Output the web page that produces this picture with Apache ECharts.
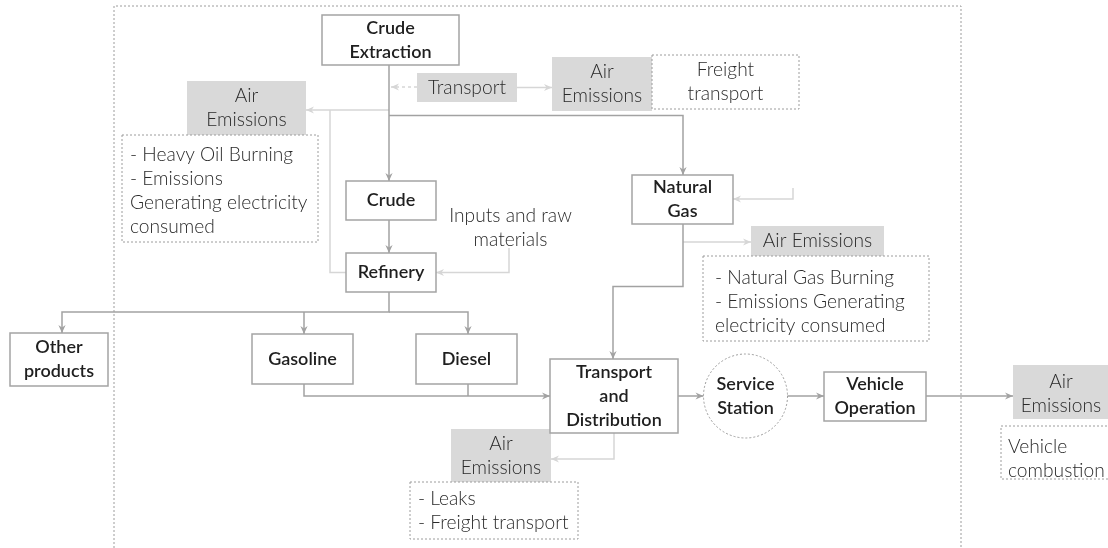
<!DOCTYPE html>
<html><head><meta charset="utf-8">
<script src="https://cdn.jsdelivr.net/npm/echarts@6/dist/echarts.min.js"></script>
<style>html,body{margin:0;padding:0;background:#fff}#c{width:1108px;height:548px}</style>
</head><body><div id="c"></div>
<script>
// ---- content ----
const processLabels = ['Crude\nExtraction','Crude','Refinery','Natural\nGas','Other\nproducts','Gasoline','Diesel','Transport\nand\nDistribution','Vehicle\nOperation'];
const stationLabels = ['Service\nStation'];
const emissionLabels = ['Transport','Air\nEmissions','Air\nEmissions','Air Emissions','Air\nEmissions','Air\nEmissions'];
const noteLabels = ['Freight\ntransport','- Heavy Oil Burning\n- Emissions\nGenerating electricity\nconsumed','- Natural Gas Burning\n- Emissions Generating\nelectricity consumed','- Leaks\n- Freight transport','Vehicle\ncombustion'];
const freeLabels = ['Inputs and raw\nmaterials'];

// ---- layout (diagram units = pixels of the reference) ----
const processBoxes = [[322,15,459,65],[346,181,436,220],[346,253,436,292],[632,175,733,224],[10,333,108,386],[252,334,353,384],[416,334,517,384],[550,359,678,433],[824,372,926,421]];
const stationCircles = [[745.5,396,42]];
const emissionBoxes = [[417,73,517,102],[552,57,652,111],[187,81,306,135],[751,226,884,256],[451,429,551,482],[1013,365,1130,419]];
const emissionAnchors = [[467,87.5],[602,84],[246.5,108],[817.5,241],[501,455.5],[1061,394]];
const noteBoxes = [[652,55,799,109],[122,135,318,242],[703,256,929,341],[410,482,578,539],[1001,426,1130,479]];
const noteAnchors = [[725.5,82,'center'],[130,191,'left'],[715,302,'left'],[418,510.5,'left'],[1008,458.5,'left']];
const freeAnchors = [[510.5,227.5]];
const framePath = [[114,600],[114,6],[961,6],[961,600]];
// main flows: [points, hasArrow]
const mainFlows = [
  [[[389,65],[389,181]],1],
  [[[389,115.5],[683,115.5],[683,175]],1],
  [[[389,220],[389,253]],1],
  [[[389,292],[389,312],[62,312],[62,333]],1],
  [[[304,312],[304,334]],1],
  [[[389,312],[468,312],[468,334]],1],
  [[[304,384],[304,396],[550,396]],1],
  [[[468,384],[468,396]],0],
  [[[683,224],[683,286.5],[613,286.5],[613,359]],1],
  [[[678,396],[703.5,396]],1],
  [[[787,396],[824,396]],1],
  [[[926,396],[1013,396]],1]
];
// aux flows: [points, hasArrow, dashed]
const auxFlows = [
  [[[417,87],[391,87]],1,1],
  [[[517,87.5],[552,87.5]],1,0],
  [[[389,110],[306,110]],1,0],
  [[[346,272.5],[330,272.5],[330,110]],0,0],
  [[[509,248],[509,272.5],[436,272.5]],1,0],
  [[[793,188],[793,199],[733,199]],1,0],
  [[[683,242],[751,242]],1,0],
  [[[614,433],[614,459],[551,459]],1,0]
];

const FONT = 'Lato, "Open Sans", sans-serif';
const MAIN = '#a2a2a2', LIGHT = '#d6d6d6', BORDER = '#a4a4a4', DASH = '#9c9c9c', FILL = '#d9d9d9';
const DARK = '#1f1f1f', SOFT = '#2a2a2a';
const LIGHT_FS = 19.2, LIGHT_FW = 300;

function arrow(api, pts, color){
  const a = api.coord(pts[pts.length-2]), t = api.coord(pts[pts.length-1]);
  const dx=t[0]-a[0], dy=t[1]-a[1], L=Math.hypot(dx,dy)||1, ux=dx/L, uy=dy/L;
  const len=8, hw=3.6, notch=2.5;
  const bx=t[0]-ux*len, by=t[1]-uy*len;
  return {type:'polygon', shape:{points:[t,[bx-uy*hw,by+ux*hw],[t[0]-ux*(len-notch),t[1]-uy*(len-notch)],[bx+uy*hw,by-ux*hw]]}, style:{fill:color}};
}
function flowItem(list, color){
  return function(params, api){
    const f = list[params.dataIndex];
    const pts = f[0].map(p=>api.coord(p));
    const ch = [{type:'polyline', shape:{points:pts}, style:{stroke:color, lineWidth:1.5, fill:null, lineDash: f[2]?[3,3]:null}}];
    if (f[1]) ch.push(arrow(api, f[0], color));
    return {type:'group', children:ch};
  };
}
function boxItem(boxes, labels, opt){
  return function(params, api){
    const b = boxes[params.dataIndex];
    const p0 = api.coord([b[0],b[1]]), p1 = api.coord([b[2],b[3]]);
    const ch = [{type:'rect', shape:{x:p0[0], y:p0[1], width:p1[0]-p0[0], height:p1[1]-p0[1]},
      style:{fill:opt.fill, stroke:opt.stroke, lineWidth:opt.lw, lineDash:opt.dash}}];
    let tx=(p0[0]+p1[0])/2, ty=(p0[1]+p1[1])/2, al='center';
    if (opt.anchors){ const a=opt.anchors[params.dataIndex]; const q=api.coord([a[0],a[1]]); tx=q[0]; ty=q[1]; al=a[2]||'center'; }
    ch.push({type:'text', style:{text:labels[params.dataIndex], x:tx, y:ty, align:al, verticalAlign:'middle',
      fontFamily:FONT, fontSize:opt.fs, fontWeight:opt.fw, fill:opt.color, lineHeight:opt.lh}});
    return {type:'group', children:ch};
  };
}
const idx = a => a.map((_,i)=>i);
const base = {type:'custom', coordinateSystem:'cartesian2d', clip:false, silent:true, animation:false};

const chart = echarts.init(document.getElementById('c'));
chart.setOption({
  animation:false,
  grid:{left:0,right:0,top:0,bottom:0},
  xAxis:{type:'value', min:0, max:1108, show:false},
  yAxis:{type:'value', min:0, max:548, inverse:true, show:false},
  series:[
    Object.assign({}, base, {name:'frame', data:[0], renderItem:(p,api)=>({type:'polyline', shape:{points:framePath.map(q=>api.coord(q))}, style:{stroke:DASH, lineWidth:1, lineDash:[2,2], fill:null}})}),
    Object.assign({}, base, {name:'aux', data:idx(auxFlows), renderItem:flowItem(auxFlows, LIGHT)}),
    Object.assign({}, base, {name:'main', data:idx(mainFlows), renderItem:flowItem(mainFlows, MAIN)}),
    Object.assign({}, base, {name:'emissions', data:idx(emissionBoxes), renderItem:boxItem(emissionBoxes, emissionLabels, {fill:FILL, stroke:null, lw:0, fs:LIGHT_FS, fw:LIGHT_FW, color:SOFT, lh:24, anchors:emissionAnchors})}),
    Object.assign({}, base, {name:'notes', data:idx(noteBoxes), renderItem:boxItem(noteBoxes, noteLabels, {fill:'#fff', stroke:DASH, lw:1, dash:[2,2], fs:LIGHT_FS, fw:LIGHT_FW, color:SOFT, lh:24, anchors:noteAnchors})}),
    Object.assign({}, base, {name:'process', data:idx(processBoxes), renderItem:boxItem(processBoxes, processLabels, {fill:'#fff', stroke:BORDER, lw:1.5, fs:18, fw:600, color:DARK, lh:24})}),
    Object.assign({}, base, {name:'station', data:idx(stationCircles), renderItem:(params,api)=>{
      const c=stationCircles[params.dataIndex]; const q=api.coord([c[0],c[1]]); const r=api.size([c[2],0])[0];
      return {type:'group', children:[
        {type:'circle', shape:{cx:q[0], cy:q[1], r:r}, style:{fill:'#fff', stroke:DASH, lineWidth:1, lineDash:[2,2]}},
        {type:'text', style:{text:stationLabels[params.dataIndex], x:q[0], y:q[1], align:'center', verticalAlign:'middle', fontFamily:FONT, fontSize:18, fontWeight:600, fill:DARK, lineHeight:24}}]};
    }}),
    Object.assign({}, base, {name:'free', data:idx(freeAnchors), renderItem:(params,api)=>{
      const q=api.coord(freeAnchors[params.dataIndex]);
      return {type:'text', style:{text:freeLabels[params.dataIndex], x:q[0], y:q[1], align:'center', verticalAlign:'middle', fontFamily:FONT, fontSize:LIGHT_FS, fontWeight:LIGHT_FW, fill:SOFT, lineHeight:24}};
    }})
  ]
});
</script></body></html>
